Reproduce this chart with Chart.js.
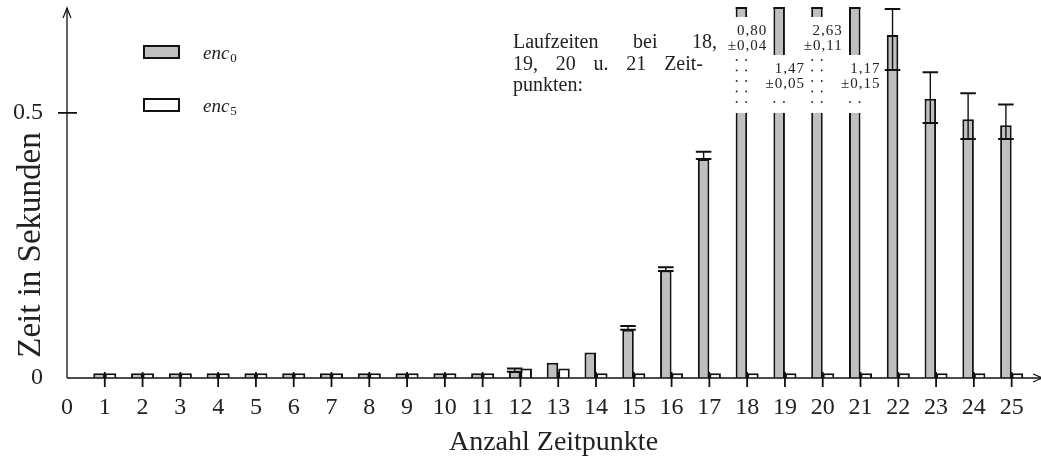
<!DOCTYPE html>
<html>
<head>
<meta charset="utf-8">
<script src="https://cdn.jsdelivr.net/npm/chart.js@4.4.1/dist/chart.umd.min.js"></script>
<style>
  html, body { margin: 0; padding: 0; background: #fff; }
  #wrap { width: 1041px; height: 459px; }
</style>
</head>
<body>
<div id="wrap"><canvas id="chart" width="1041" height="459"></canvas></div>
<script>
// number of time points (x) and run times in seconds
const timePoints = [1, 2, 3, 4, 5, 6, 7, 8, 9, 10, 11, 12, 13, 14, 15, 16, 17, 18, 19, 20, 21, 22, 23, 24, 25];
const enc0Times = [0.009, 0.009, 0.009, 0.009, 0.009, 0.009, 0.009, 0.009, 0.009, 0.009, 0.009,
    0.013, 0.029, 0.048, 0.091, 0.203, 0.413, 0.80, 1.47, 2.63, 1.17, 0.647, 0.527, 0.488, 0.477];
const enc0ErrUp = [0, 0, 0, 0, 0, 0, 0, 0, 0, 0, 0,
    0.005, 0, 0, 0.007, 0.006, 0.014, 0.04, 0.05, 0.11, 0.15, 0.049, 0.050, 0.049, 0.039];
const enc0ErrDown = [0, 0, 0, 0, 0, 0, 0, 0, 0, 0, 0,
    0.001, 0, 0, 0, 0.001, 0, 0.04, 0.05, 0.11, 0.15, 0.066, 0.046, 0.037, 0.026];
const enc5Times = [0.009, 0.009, 0.009, 0.009, 0.009, 0.009, 0.009, 0.009, 0.009, 0.009, 0.009,
    0.018, 0.018, 0.009, 0.009, 0.009, 0.009, 0.009, 0.009, 0.009, 0.009, 0.009, 0.009, 0.009, 0.009];

const xTicks = [0, 1, 2, 3, 4, 5, 6, 7, 8, 9, 10, 11, 12, 13, 14, 15, 16, 17, 18, 19, 20, 21, 22, 23, 24, 25];
const yTicks = [0, 0.5];
const seriesNames = ["enc", "enc"];
const seriesSubs = ["0", "5"];
const yTitle = "Zeit in Sekunden";
const noteLines = [
    ["Laufzeiten", "bei", "18,"],
    ["19,", "20", "u.", "21", "Zeit-"],
    ["punkten:"],
];

const SERIF = '"Liberation Serif", "DejaVu Serif", serif';
const INK = "#111";
const GREY = "#bfbfbf";

function arrowHead(ctx, tx, ty, ang) {
    ctx.save();
    ctx.translate(tx, ty);
    ctx.rotate(ang);
    ctx.lineWidth = 1.2;
    ctx.beginPath();
    ctx.moveTo(-10, -4);
    ctx.quadraticCurveTo(-3, -1, 0, 0);
    ctx.quadraticCurveTo(-3, 1, -10, 4);
    ctx.stroke();
    ctx.restore();
}

const errorBars = {
    id: "errorBars",
    afterDatasetsDraw(chart) {
        const { ctx, chartArea } = chart;
        const y = chart.scales.y;
        const bars = chart.getDatasetMeta(0).data;
        ctx.save();
        ctx.beginPath();
        ctx.rect(chartArea.left, chartArea.top - 1, chartArea.width, chartArea.height + 1);
        ctx.clip();
        ctx.strokeStyle = INK;
        bars.forEach((bar, i) => {
            const up = enc0ErrUp[i], down = enc0ErrDown[i];
            if (!up && !down) return;
            const top = y.getPixelForValue(enc0Times[i] + up);
            const bottom = y.getPixelForValue(enc0Times[i] - down);
            const half = bar.width / 2 + 2;
            ctx.lineWidth = 1.4;
            ctx.beginPath();
            ctx.moveTo(bar.x, top);
            ctx.lineTo(bar.x, bottom);
            ctx.stroke();
            ctx.lineWidth = 2;
            ctx.beginPath();
            ctx.moveTo(bar.x - half, top);
            ctx.lineTo(bar.x + half, top);
            ctx.moveTo(bar.x - half, bottom);
            ctx.lineTo(bar.x + half, bottom);
            ctx.stroke();
        });
        ctx.restore();
    },
};

// bars that don't fit get cut at 0.5, value written into the gap
const gapTops = [17, 55];
const brokenBars = {
    id: "brokenBars",
    afterDatasetsDraw(chart) {
        const { ctx, chartArea } = chart;
        const y = chart.scales.y;
        const cutAt = y.getPixelForValue(0.5);
        const bars = chart.getDatasetMeta(0).data;
        const cut = [];
        bars.forEach((bar, i) => {
            if (enc0Times[i] > y.max) cut.push({ bar, i, gapTop: gapTops[cut.length % 2] });
        });
        ctx.save();
        cut.forEach(({ bar, gapTop }) => {
            const left = bar.x - bar.width / 2, right = bar.x + bar.width / 2;
            ctx.fillStyle = "#fff";
            ctx.fillRect(left - 1, gapTop, right - left + 2, cutAt - gapTop);
            ctx.strokeStyle = INK;
            ctx.lineWidth = 2;
            ctx.beginPath();
            ctx.moveTo(left, chartArea.top);
            ctx.lineTo(right, chartArea.top);
            ctx.stroke();
            ctx.fillStyle = INK;
            for (let yy = cutAt - 11; yy > gapTop + 7; yy -= 10.5) {
                ctx.fillRect(left + 0.2, yy - 0.8, 1.6, 1.6);
                ctx.fillRect(right - 1.8, yy - 0.8, 1.6, 1.6);
            }
        });
        ctx.font = "15px " + SERIF;
        ctx.letterSpacing = "1px";
        ctx.textAlign = "right";
        ctx.textBaseline = "middle";
        cut.forEach(({ bar, i, gapTop }) => {
            const left = bar.x - bar.width / 2;
            const rx = bar.x + bar.width / 2 + 20;
            const lines = [
                enc0Times[i].toFixed(2).replace(".", ","),
                "\u00b1" + enc0ErrUp[i].toFixed(2).replace(".", ","),
            ];
            lines.forEach((t, k) => {
                const ty = gapTop + 14.5 + k * 15;
                const w = ctx.measureText(t).width;
                const bx = Math.min(rx - w - 2, left - 2);
                ctx.fillStyle = "#fff";
                ctx.fillRect(bx, ty - 10, rx + 1 - bx, 19);
                ctx.fillStyle = "#222";
                ctx.fillText(t, rx, ty);
            });
        });
        ctx.restore();
    },
};

const decorations = {
    id: "decorations",
    afterDraw(chart) {
        const { ctx, chartArea: a, scales: { x, y } } = chart;
        const x0 = x.getPixelForValue(0), y0 = y.getPixelForValue(0);
        ctx.save();
        ctx.strokeStyle = INK;
        ctx.lineWidth = 1.3;
        ctx.beginPath();
        ctx.moveTo(x0, y0);
        ctx.lineTo(1043, y0);
        ctx.moveTo(x0, y0);
        ctx.lineTo(x0, a.top);
        ctx.stroke();
        arrowHead(ctx, 1043, y0, 0);
        arrowHead(ctx, x0, a.top, -Math.PI / 2);

        ctx.lineWidth = 1.8;
        ctx.beginPath();
        timePoints.forEach((t) => {
            const px = x.getPixelForValue(t);
            ctx.moveTo(px, y0 - 6);
            ctx.lineTo(px, y0 + 9);
        });
        const yh = y.getPixelForValue(0.5);
        ctx.moveTo(x0 - 9, yh);
        ctx.lineTo(x0 + 10, yh);
        ctx.stroke();

        // y axis title
        ctx.save();
        ctx.translate(31, 245);
        ctx.rotate(-Math.PI / 2);
        ctx.font = "33px " + SERIF;
        ctx.fillStyle = "#222";
        ctx.textAlign = "center";
        ctx.textBaseline = "middle";
        ctx.fillText(yTitle, 0, 0);
        ctx.restore();

        // legend
        chart.data.datasets.forEach((ds, k) => {
            const top = 45 + k * 53;
            ctx.fillStyle = ds.backgroundColor;
            ctx.fillRect(144, top + 1, 35, 12);
            ctx.lineWidth = 2;
            ctx.strokeStyle = INK;
            ctx.strokeRect(144, top + 1, 35, 12);
            ctx.fillStyle = "#222";
            ctx.textAlign = "left";
            ctx.textBaseline = "alphabetic";
            ctx.font = "italic 19px " + SERIF;
            ctx.fillText(seriesNames[k], 203, top + 13.5);
            const w = ctx.measureText(seriesNames[k]).width;
            ctx.font = "13px " + SERIF;
            ctx.fillText(seriesSubs[k], 204 + w, top + 16.5);
        });

        // note on the cut bars
        ctx.font = "20px " + SERIF;
        ctx.fillStyle = "#222";
        const widths = [204, 190, 0];
        noteLines.forEach((words, k) => {
            const by = 48 + k * 21.5;
            const total = words.reduce((s, wd) => s + ctx.measureText(wd).width, 0);
            const gap = words.length > 1 && widths[k] ? (widths[k] - total) / (words.length - 1) : 5;
            let cx = 513;
            words.forEach((wd) => {
                ctx.fillText(wd, cx, by);
                cx += ctx.measureText(wd).width + gap;
            });
        });
        ctx.restore();
    },
};

new Chart(document.getElementById("chart"), {
    type: "bar",
    data: {
        datasets: [
            {
                label: seriesNames[0] + "\u2080",
                data: timePoints.map((t, i) => ({ x: t, y: enc0Times[i] })),
                backgroundColor: GREY,
                borderColor: INK,
                borderWidth: 2,
            },
            {
                label: seriesNames[1] + "\u2085",
                data: timePoints.map((t, i) => ({ x: t, y: enc5Times[i] })),
                backgroundColor: "#ffffff",
                borderColor: INK,
                borderWidth: 2,
            },
        ],
    },
    options: {
        responsive: false,
        animation: false,
        devicePixelRatio: 1,
        categoryPercentage: 0.61,
        barPercentage: 1,
        layout: { padding: { top: 8, right: 1, left: 0, bottom: 0 } },
        plugins: {
            legend: { display: false },
            tooltip: { enabled: false },
        },
        scales: {
            x: {
                type: "linear",
                offset: false,
                min: 0,
                max: 25.75,
                afterBuildTicks: (s) => { s.ticks = xTicks.map((v) => ({ value: v })); },
                afterFit: (s) => {
                    s.height = 81;
                    s.paddingLeft = 0;
                    s.paddingRight = 0;
                },
                grid: { display: false, drawTicks: false },
                border: { display: false },
                ticks: {
                    autoSkip: false,
                    maxRotation: 0,
                    padding: 15,
                    color: "#222",
                    font: { family: SERIF, size: 24 },
                },
                title: {
                    display: true,
                    text: "Anzahl Zeitpunkte",
                    color: "#222",
                    padding: { top: 0, bottom: 0 },
                    font: { family: SERIF, size: 28 },
                },
            },
            y: {
                min: 0,
                max: 0.698,
                afterBuildTicks: (s) => { s.ticks = yTicks.map((v) => ({ value: v })); },
                afterFit: (s) => {
                    s.width = 67;
                    s.paddingTop = 0;
                    s.paddingBottom = 0;
                },
                grid: { display: false, drawTicks: false },
                border: { display: false },
                ticks: {
                    padding: 24,
                    color: "#222",
                    font: { family: SERIF, size: 24 },
                    callback: (v) => String(v),
                },
            },
        },
    },
    plugins: [errorBars, brokenBars, decorations],
});
</script>
</body>
</html>
